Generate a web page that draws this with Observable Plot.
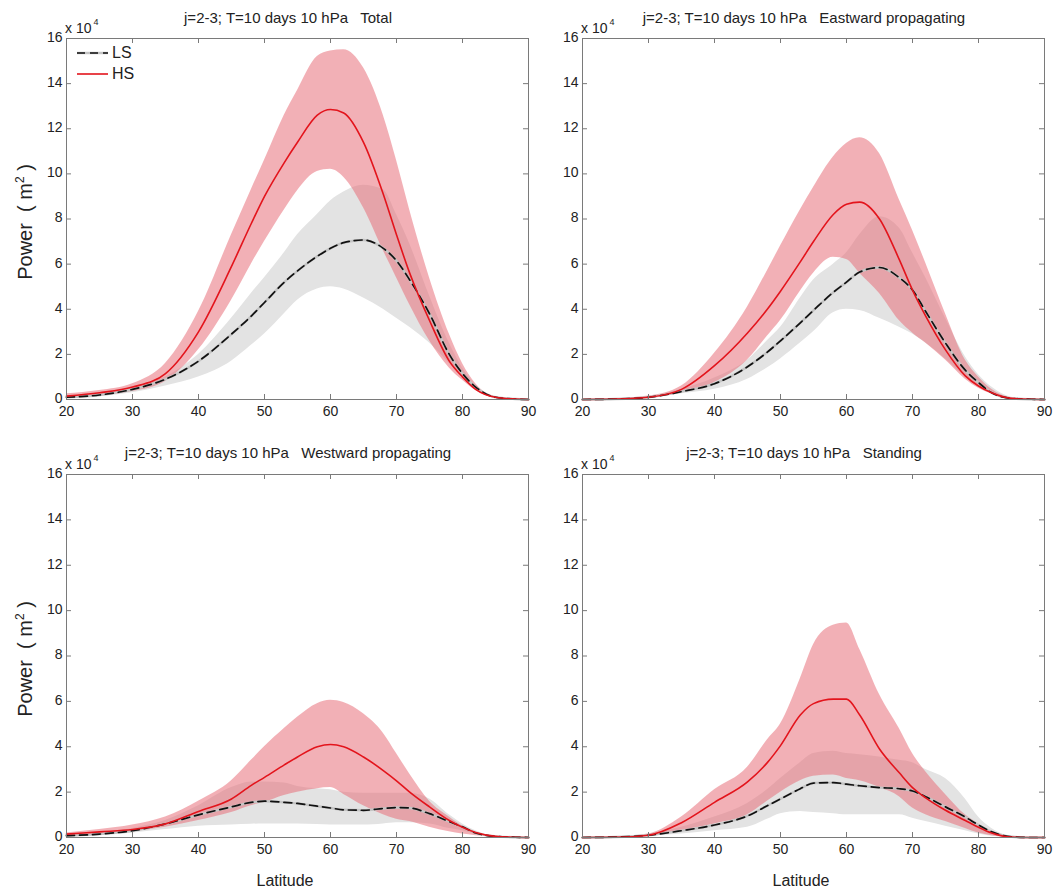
<!DOCTYPE html>
<html>
<head>
<meta charset="utf-8">
<script src="https://cdn.jsdelivr.net/npm/d3@7"></script>
<script src="https://cdn.jsdelivr.net/npm/@observablehq/plot@0.6"></script>
<style>
  html, body { margin: 0; padding: 0; background: #fff; }
  #root { position: relative; width: 1056px; height: 889px; overflow: hidden; font-family: "Liberation Sans", Arial, sans-serif; color: #222; }
  .abs { position: absolute; white-space: pre; line-height: 1; }
  .title { font-size: 15px; transform: translateX(-50%); }
  .x10 { font-size: 14px; }
  .ylab { font-size: 20px; transform: translate(-50%, -50%) rotate(-90deg); }
  .xlab { font-size: 16px; transform: translate(-50%, -50%); }
  .leg { font-size: 16px; transform: translateY(-50%); }
  svg { position: absolute; overflow: visible; }
</style>
</head>
<body>
<div id="root"></div>
<script>
// ---- data (power in units of 10^4 m^2) ----
const lat = [20, 25, 30, 35, 40, 45, 48, 50, 53, 55, 58, 60, 62, 65, 68, 70, 72, 75, 78, 80, 82, 85, 88, 90];
const xTicks = [20, 30, 40, 50, 60, 70, 80, 90];
const yTicks = [0, 2, 4, 6, 8, 10, 12, 14, 16];
const titles = [
  "j=2-3; T=10 days 10 hPa   Total",
  "j=2-3; T=10 days 10 hPa   Eastward propagating",
  "j=2-3; T=10 days 10 hPa   Westward propagating",
  "j=2-3; T=10 days 10 hPa   Standing"
];
const seriesNames = ["LS", "HS"];

// Total
const totalHS   = [0.15,0.3,0.55,1.15,3.0,5.9,7.8,9.0,10.5,11.4,12.6,12.85,12.7,11.4,9.1,7.3,5.6,3.5,1.7,1.0,0.45,0.1,0.02,0];
const totalHShi = [0.25,0.4,0.7,1.6,3.9,7.3,9.3,10.6,12.6,13.7,15.2,15.45,15.5,14.7,12.6,10.6,8.4,5.4,2.9,1.6,0.7,0.1,0.02,0];
const totalHSlo = [0.05,0.15,0.35,0.8,2.2,4.4,6.0,7.0,8.4,9.25,10.1,10.2,9.85,8.5,6.6,5.4,4.2,2.6,1.4,0.85,0.4,0.07,0.01,0];
const totalLS   = [0.1,0.2,0.45,0.9,1.7,2.9,3.7,4.3,5.2,5.7,6.35,6.7,6.95,7.07,6.7,6.15,5.3,3.8,2.0,1.15,0.55,0.1,0.02,0];
const totalLShi = [0.15,0.25,0.5,1.0,2.0,3.6,4.7,5.4,6.5,7.3,8.2,8.8,9.2,9.5,9.3,8.2,6.9,4.6,2.5,1.4,0.65,0.12,0.02,0];
const totalLSlo = [0.05,0.12,0.3,0.6,1.0,1.7,2.4,2.9,3.8,4.4,4.9,5.0,4.9,4.5,4.0,3.6,3.2,2.5,1.6,1.0,0.5,0.08,0.01,0];

// Eastward propagating
const eastHS   = [0,0.02,0.1,0.45,1.5,2.95,4.0,4.8,6.1,7.0,8.2,8.65,8.75,8.0,6.2,4.85,3.7,2.2,1.05,0.6,0.3,0.05,0.01,0];
const eastHShi = [0,0.03,0.15,0.6,2.05,4.1,5.7,6.8,8.4,9.4,10.75,11.35,11.6,10.9,8.85,7.5,6.05,3.8,1.75,1.0,0.45,0.07,0.01,0];
const eastHSlo = [0,0.01,0.05,0.3,0.75,1.75,2.8,3.5,4.8,5.6,6.3,6.2,5.6,4.7,3.5,2.95,2.5,1.75,0.9,0.5,0.25,0.03,0,0];
const eastLS   = [0,0.02,0.1,0.35,0.7,1.45,2.1,2.6,3.4,3.95,4.75,5.2,5.65,5.85,5.4,4.85,3.9,2.5,1.3,0.75,0.3,0.05,0.01,0];
const eastLShi = [0,0.03,0.12,0.45,0.95,1.75,2.6,3.2,4.5,5.3,6.0,6.5,7.3,8.1,7.6,6.5,5.4,3.6,1.9,1.1,0.55,0.1,0.01,0];
const eastLSlo = [0,0.01,0.05,0.25,0.45,0.9,1.4,1.8,2.5,3.0,3.85,4.0,3.95,3.6,3.2,2.9,2.5,1.8,1.0,0.6,0.25,0.04,0,0];

// Westward propagating
const westHS   = [0.15,0.25,0.35,0.6,1.15,1.7,2.3,2.65,3.2,3.55,4.0,4.1,4.0,3.55,2.95,2.5,2.0,1.35,0.75,0.45,0.22,0.05,0.01,0];
const westHShi = [0.2,0.35,0.55,0.9,1.6,2.5,3.4,4.0,4.8,5.3,5.9,6.05,5.95,5.45,4.6,3.7,2.8,1.6,0.9,0.5,0.22,0.04,0,0];
const westHSlo = [0.1,0.15,0.25,0.45,0.75,1.1,1.4,1.55,1.85,2.0,2.15,2.2,1.9,1.4,1.0,0.8,0.7,0.45,0.25,0.15,0.08,0.02,0,0];
const westLS   = [0.08,0.15,0.3,0.6,1.0,1.35,1.55,1.6,1.55,1.5,1.38,1.3,1.22,1.2,1.28,1.32,1.3,1.05,0.7,0.47,0.2,0.05,0.01,0];
const westLShi = [0.12,0.2,0.4,0.75,1.4,2.2,2.45,2.45,2.4,2.25,2.15,2.1,2.0,1.95,1.95,1.95,1.95,1.7,1.0,0.6,0.3,0.05,0.01,0];
const westLSlo = [0.05,0.1,0.2,0.35,0.5,0.55,0.58,0.6,0.6,0.6,0.57,0.55,0.55,0.55,0.6,0.65,0.65,0.6,0.4,0.3,0.15,0.03,0,0];

// Standing
const standHS   = [0,0.01,0.1,0.65,1.55,2.45,3.3,4.05,5.4,5.9,6.1,6.1,5.4,3.9,2.85,2.2,1.75,1.2,0.75,0.45,0.2,0.02,0,0];
const standHShi = [0,0.01,0.15,0.9,2.1,3.1,4.3,5.0,7.0,8.5,9.35,9.45,8.3,6.3,4.8,3.7,2.9,1.9,1.0,0.6,0.25,0.02,0,0];
const standHSlo = [0,0,0.05,0.3,0.6,1.0,1.6,2.0,2.5,2.7,2.75,2.6,2.5,2.2,1.8,1.3,1.0,0.7,0.4,0.2,0.08,0,0,0];
const standLS   = [0,0.02,0.1,0.3,0.55,0.95,1.4,1.7,2.15,2.4,2.42,2.35,2.28,2.2,2.15,2.05,1.8,1.35,0.9,0.55,0.25,0.03,0,0];
const standLShi = [0,0.03,0.15,0.45,0.9,1.5,2.1,2.6,3.3,3.7,3.8,3.7,3.65,3.55,3.4,3.3,3.0,2.6,1.7,0.9,0.4,0.05,0,0];
const standLSlo = [0,0,0.05,0.15,0.3,0.45,0.8,1.05,1.15,1.1,1.05,1.0,1.0,1.0,1.0,0.85,0.7,0.5,0.3,0.15,0.05,0,0,0];

const panelsData = [
  [totalHS, totalHShi, totalHSlo, totalLS, totalLShi, totalLSlo],
  [eastHS, eastHShi, eastHSlo, eastLS, eastLShi, eastLSlo],
  [westHS, westHShi, westHSlo, westLS, westLShi, westLSlo],
  [standHS, standHShi, standHSlo, standLS, standLShi, standLSlo]
];

// ---- layout ----
const root = document.getElementById("root");
const ML = 40, MR = 15, MT = 10, MB = 30, innerW = 462;
const layout = [
  {left: 26, top: 28, innerH: 361},
  {left: 542, top: 28, innerH: 361},
  {left: 26, top: 464, innerH: 363},
  {left: 542, top: 464, innerH: 363}
];
const curve = "monotone-x";
const FONT = "'Liberation Sans', Arial, sans-serif";

function addDiv(cls, html, x, y) {
  const d = document.createElement("div");
  d.className = "abs " + cls;
  d.innerHTML = html;
  d.style.left = x + "px";
  d.style.top = y + "px";
  root.appendChild(d);
  return d;
}

panelsData.forEach((arrs, i) => {
  const [hs, hsHi, hsLo, ls, lsHi, lsLo] = arrs;
  const rows = lat.map((l, k) => ({lat: l, hs: hs[k], hsHi: hsHi[k], hsLo: hsLo[k], ls: ls[k], lsHi: lsHi[k], lsLo: lsLo[k]}));
  const L = layout[i];
  const tk = 5;
  const chart = Plot.plot({
    width: ML + innerW + MR,
    height: MT + L.innerH + MB,
    marginLeft: ML, marginRight: MR, marginTop: MT, marginBottom: MB,
    style: {fontFamily: FONT, fontSize: "14px", color: "#222", background: "transparent", overflow: "visible"},
    x: {domain: [20, 90]},
    y: {domain: [0, 16]},
    marks: [
      Plot.areaY(rows, {x: "lat", y1: "lsLo", y2: "lsHi", fill: "#e3e3e3", curve}),
      Plot.areaY(rows, {x: "lat", y1: "hsLo", y2: "hsHi", fill: "rgb(231,112,122)", fillOpacity: 0.55, curve}),
      Plot.line(rows, {x: "lat", y: "ls", stroke: "#c4c4c4", strokeWidth: 2.4, curve}),
      Plot.line(rows, {x: "lat", y: "ls", stroke: "#111", strokeWidth: 1.7, strokeDasharray: "8,5", curve}),
      Plot.line(rows, {x: "lat", y: "hs", stroke: "#e3141c", strokeWidth: 1.6, curve}),
      Plot.frame({stroke: "#7a7a7a"}),
      Plot.tickY(yTicks, {y: d => d, insetRight: innerW - tk, stroke: "#7a7a7a"}),
      Plot.tickY(yTicks, {y: d => d, insetLeft: innerW - tk, stroke: "#7a7a7a"}),
      Plot.tickX(xTicks, {x: d => d, insetTop: L.innerH - tk, stroke: "#7a7a7a"}),
      Plot.tickX(xTicks, {x: d => d, insetBottom: L.innerH - tk, stroke: "#7a7a7a"}),
      Plot.axisX({ticks: xTicks, tickSize: 0, tickPadding: 7, label: null, tickFormat: d => String(d), fill: "#222"}),
      Plot.axisY({ticks: yTicks, tickSize: 0, tickPadding: 4, label: null, tickFormat: d => String(d), fill: "#222", dy: -1})
    ]
  });
  chart.style.left = L.left + "px";
  chart.style.top = L.top + "px";
  root.appendChild(chart);

  const fLeft = L.left + ML, fTop = L.top + MT;
  const cx = fLeft + innerW / 2;
  // title
  addDiv("title", titles[i], cx - 9, fTop - 28 + (i >= 2 ? -1 : 0));
  // x 10^4
  addDiv("x10", "x 10<span style=\"font-size:9px;position:relative;top:-8px;left:2px\">4</span>", fLeft - 1, fTop - 17);
  if (i % 2 === 0) {
    addDiv("ylab", "Power  ( m<span style=\"font-size:12px;position:relative;top:-8px\">2</span> )", 25, fTop + L.innerH / 2 + 3);
  }
  if (i >= 2) {
    addDiv("xlab", "Latitude", cx - 12, 881);
  }
});

// legend (first panel)
const legSvg = d3.create("svg").attr("width", 40).attr("height", 40)
  .style("left", "76px").style("top", "43px");
legSvg.append("line").attr("x1", 1).attr("x2", 32).attr("y1", 10).attr("y2", 10)
  .attr("stroke", "#c4c4c4").attr("stroke-width", 2.4);
legSvg.append("line").attr("x1", 1).attr("x2", 32).attr("y1", 10).attr("y2", 10)
  .attr("stroke", "#111").attr("stroke-width", 1.7).attr("stroke-dasharray", "8,5");
legSvg.append("line").attr("x1", 1).attr("x2", 32).attr("y1", 31).attr("y2", 31)
  .attr("stroke", "#e3141c").attr("stroke-width", 1.6);
root.appendChild(legSvg.node());
addDiv("leg", seriesNames[0], 112, 53);
addDiv("leg", seriesNames[1], 112, 74);
</script>
</body>
</html>
